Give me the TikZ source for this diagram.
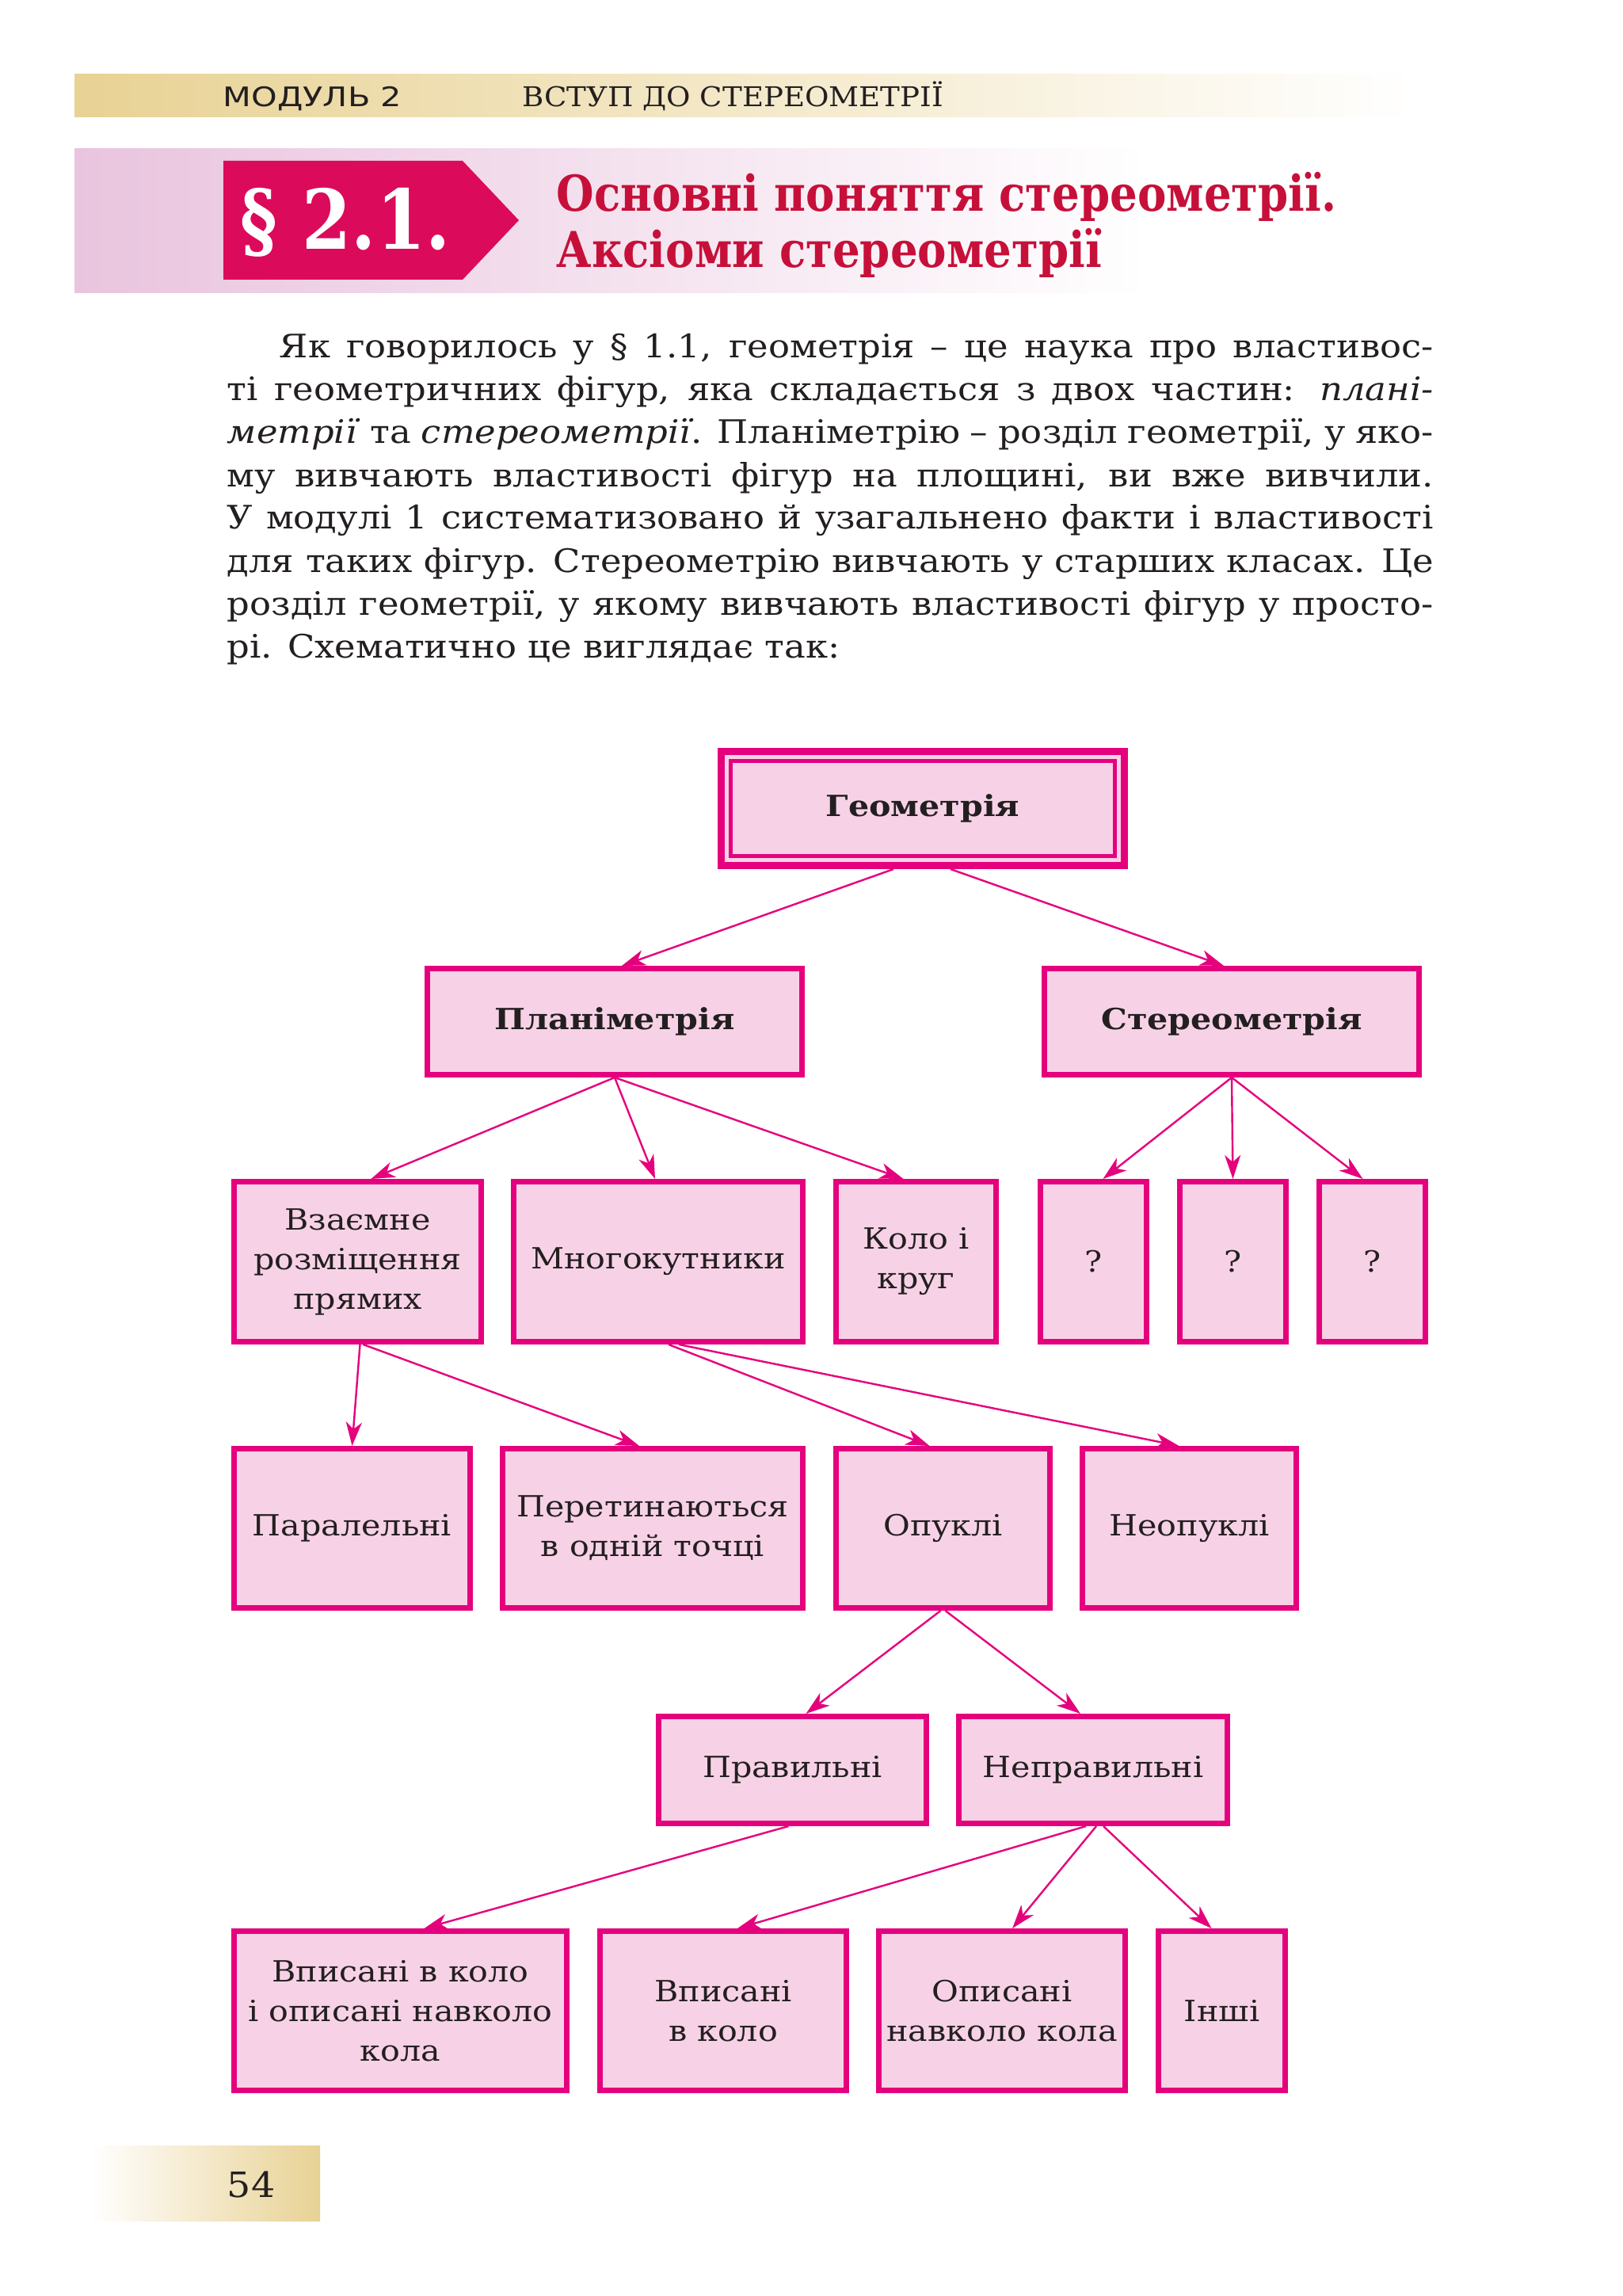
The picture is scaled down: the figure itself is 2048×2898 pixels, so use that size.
\documentclass[tikz,border=0pt]{standalone}
\usepackage{fontspec}
\setmainfont{DejaVu Serif}[FakeStretch=1.1]
\newfontfamily\hsansfnt{DejaVu Sans}[FakeStretch=1.22]
\newfontfamily\hseriffnt{DejaVu Serif}[FakeStretch=1.08]
\newfontfamily\ttlfnt{DejaVu Serif}[FakeStretch=0.875]
\newfontfamily\parfnt{DejaVu Serif}[FakeStretch=0.86]
\newfontfamily\dgmfam{DejaVu Serif}[FakeStretch=1.12]
\usetikzlibrary{arrows.meta,calc}
\definecolor{mag}{RGB}{229,0,125}
\definecolor{boxfill}{RGB}{247,210,230}
\definecolor{ink}{RGB}{35,31,32}
\definecolor{titlered}{RGB}{198,16,58}
\definecolor{pentcol}{RGB}{220,10,90}
\definecolor{lilac}{RGB}{233,196,222}
\definecolor{gold}{RGB}{232,210,148}
\newcommand\dgmfnt{\dgmfam\fontsize{9.2pt}{12.5pt}\selectfont}
\newcommand\bodyfnt{\fontsize{10.2pt}{13.5pt}\selectfont}
\newcommand\bx[7][]{\node[box,#1,minimum width={(#4-#2-7)*0.25pt},minimum height={(#5-#3-7)*0.25pt}] (#6) at ({(#2+#4)/2},{(#3+#5)/2}) {#7};}
\begin{document}
\begin{tikzpicture}[x=0.25pt,y=-0.25pt,
  box/.style={draw=mag, fill=boxfill, line width=1.75pt, inner sep=0pt, align=center, text=ink, font=\dgmfnt},
  arr/.style={draw=mag, line width=0.6pt, -{Stealth[length=7.5pt,width=5pt,inset=2.2pt]}},
  bodyline/.style={anchor=base west, inner sep=0pt, text=ink, font=\bodyfnt},
  hdr/.style={anchor=base west, inner sep=0pt, text=ink}]
\useasboundingbox[fill=white] (0,0) rectangle (2048,2898);
% header band
\shade[left color=gold, right color=white] (94,94) rectangle (1790,148);
\node[hdr, font=\hsansfnt\fontsize{8.5pt}{10pt}\selectfont] (mod) at (281,135) {МОДУЛЬ 2};
\node[hdr, font=\hseriffnt\fontsize{8.6pt}{10pt}\selectfont] (sect) at (659,135) {ВСТУП ДО СТЕРЕОМЕТРІЇ};
% title band
\shade[left color=lilac, right color=white] (94,188) rectangle (1450,370);
\fill[pentcol] (282,203) -- (584,203) -- (655,278) -- (584,353) -- (282,353) -- cycle;
\node[anchor=base west, inner sep=0pt, text=white, font=\parfnt\bfseries\fontsize{26pt}{28pt}\selectfont] (par) at (303,315) {§ 2.1.};
\node[anchor=base west, inner sep=0pt, text=titlered, font=\ttlfnt\bfseries\fontsize{15.6pt}{18pt}\selectfont] (t1) at (702,267) {Основні поняття стереометрії.};
\node[anchor=base west, inner sep=0pt, text=titlered, font=\ttlfnt\bfseries\fontsize{15.6pt}{18pt}\selectfont] (t2) at (702,338) {Аксіоми стереометрії};
% body text
\node[bodyline] (b1) at (352,452) {\makebox[364.25pt][s]{Як говорилось у § 1.1, геометрія – це наука про властивос-}};
\node[bodyline] (b2) at (286,506) {\makebox[380.75pt][s]{ті геометричних фігур, яка складається з двох частин: \textit{плані-}}};
\node[bodyline] (b3) at (286,560) {\makebox[380.75pt][s]{\textit{метрії} та \textit{стереометрії}. Планіметрію – розділ геометрії, у яко-}};
\node[bodyline] (b4) at (286,614) {\makebox[380.75pt][s]{му вивчають властивості фігур на площині, ви вже вивчили.}};
\node[bodyline] (b5) at (286,668) {\makebox[380.75pt][s]{У модулі 1 систематизовано й узагальнено факти і властивості}};
\node[bodyline] (b6) at (286,722) {\makebox[380.75pt][s]{для таких фігур. Стереометрію вивчають у старших класах. Це}};
\node[bodyline] (b7) at (286,776) {\makebox[380.75pt][s]{розділ геометрії, у якому вивчають властивості фігур у просто-}};
\node[bodyline] (b8) at (286,830) {рі. Схематично це виглядає так:};
% diagram boxes
\node[box, line width=2.25pt, minimum width=127.25pt, minimum height=36pt, font=\dgmfnt\bfseries] (geo) at (1165,1020.5) {Геометрія};
\draw[mag, line width=1.25pt] ($(geo.north west)+(16.5,16.5)$) rectangle ($(geo.south east)+(-16.5,-16.5)$);
\bx[font=\dgmfnt\bfseries]{536}{1219}{1016}{1360}{plan}{Планіметрія}
\bx[font=\dgmfnt\bfseries]{1315}{1219}{1795}{1360}{stereo}{Стереометрія}
\bx{292}{1488}{611}{1697}{vz}{Взаємне\\розміщення\\прямих}
\bx{645}{1488}{1017}{1697}{mn}{Многокутники}
\bx{1052}{1488}{1261}{1697}{kolo}{Коло і\\круг}
\bx{1310}{1488}{1451}{1697}{qa}{?}
\bx{1486}{1488}{1627}{1697}{qb}{?}
\bx{1662}{1488}{1803}{1697}{qc}{?}
\bx{292}{1825}{597}{2033}{paral}{Паралельні}
\bx{631}{1825}{1017}{2033}{pere}{Перетинаються\\в одній точці}
\bx{1052}{1825}{1329}{2033}{op}{Опуклі}
\bx{1363}{1825}{1640}{2033}{neop}{Неопуклі}
\bx{828}{2163}{1173}{2305}{prav}{Правильні}
\bx{1207}{2163}{1553}{2305}{neprav}{Неправильні}
\bx{292}{2434}{719}{2642}{va}{Вписані в коло\\і описані навколо\\кола}
\bx{754}{2434}{1072}{2642}{vb}{Вписані\\в коло}
\bx{1106}{2434}{1424}{2642}{vc}{Описані\\навколо кола}
\bx{1459}{2434}{1626}{2642}{vd}{Інші}
% connectors
\draw[arr] ($(geo.south)+(-37,0)$) -- ($(plan.north)+(9,0)$);
\draw[arr] ($(geo.south)+(35,0)$) -- ($(stereo.north)+(-10,0)$);
\draw[arr] (plan.south) -- ($(vz.north)+(17,0)$);
\draw[arr] (plan.south) -- ($(mn.north)+(-4,0)$);
\draw[arr] (plan.south) -- ($(kolo.north)+(-16,0)$);
\draw[arr] (stereo.south) -- ($(qa.north)+(12,0)$);
\draw[arr] (stereo.south) -- (qb.north);
\draw[arr] (stereo.south) -- ($(qc.north)+(-12,0)$);
\draw[arr] ($(vz.south)+(3,0)$) -- (paral.north);
\draw[arr] ($(vz.south)+(7,0)$) -- ($(pere.north)+(-17,0)$);
\draw[arr] ($(mn.south)+(13,0)$) -- ($(op.north)+(-17,0)$);
\draw[arr] ($(mn.south)+(26,0)$) -- ($(neop.north)+(-13,0)$);
\draw[arr] ($(op.south)+(-3,0)$) -- ($(prav.north)+(17,0)$);
\draw[arr] ($(op.south)+(3,0)$) -- ($(neprav.north)+(-16,0)$);
\draw[arr] ($(prav.south)+(-5,0)$) -- ($(va.north)+(30,0)$);
\draw[arr] ($(neprav.south)+(-9,0)$) -- ($(vb.north)+(18,0)$);
\draw[arr] ($(neprav.south)+(4,0)$) -- ($(vc.north)+(13,0)$);
\draw[arr] ($(neprav.south)+(13,0)$) -- ($(vd.north)+(-13,0)$);
% page number band
\shade[left color=white, right color=gold] (114,2708) rectangle (404,2803);
\node[hdr, font=\hseriffnt\fontsize{11pt}{13pt}\selectfont] (pg) at (286,2773) {54};
\end{tikzpicture}
\end{document}
